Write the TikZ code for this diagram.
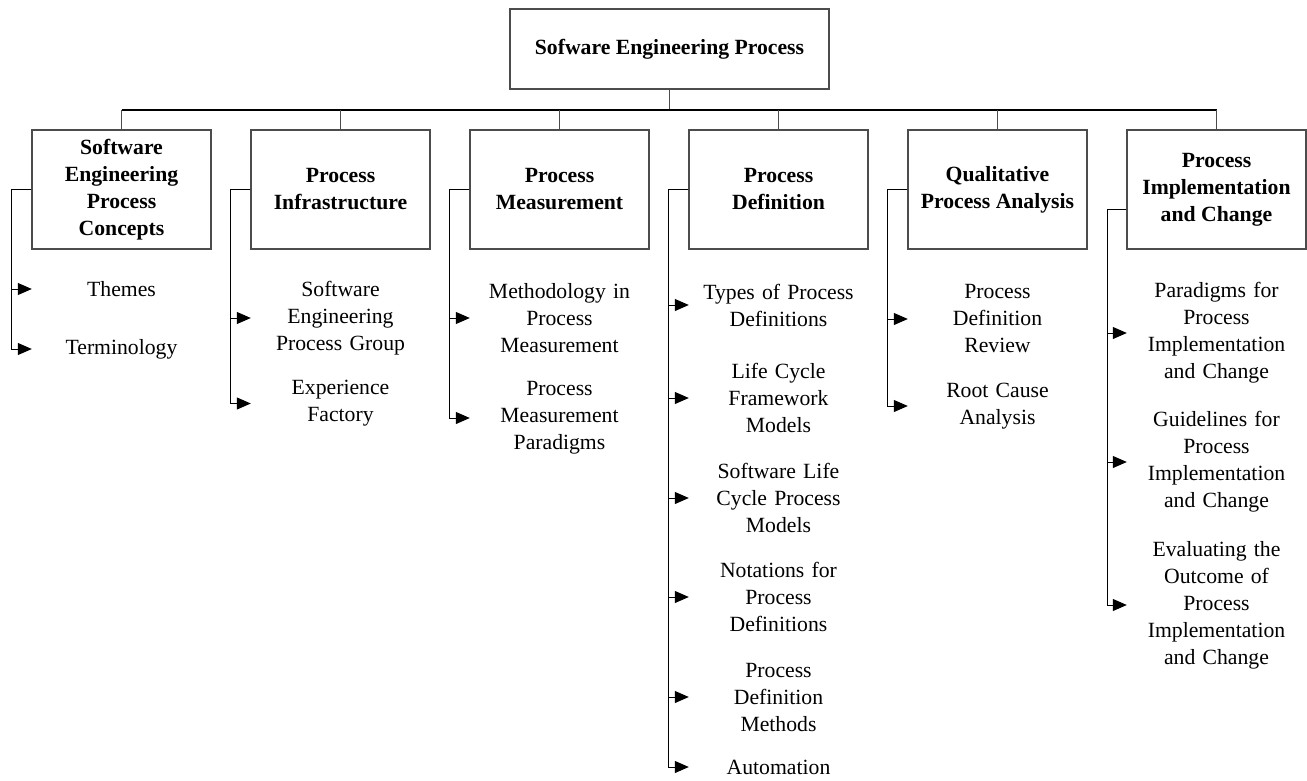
\documentclass[tikz,border=0pt]{standalone}
\usepackage{fontspec}
\setmainfont{Liberation Serif}
\usetikzlibrary{arrows.meta}
\begin{document}
\begin{tikzpicture}[x=1pt,y=-1pt,
		topic/.style={draw=black!70,line width=1.2pt,minimum width=179pt,minimum height=119pt,inner sep=0pt,align=center,font=\fontsize{21.7}{27}\selectfont\bfseries},
		leaf/.style={text width=179pt,inner sep=0pt,align=center,font=\fontsize{21.7}{27}\selectfont},
		stem/.style={draw=black!70,line width=1.2pt},
		link/.style={draw=black,line width=1pt,-{Triangle[length=14pt,width=12pt]}}]
	\useasboundingbox (0,0) rectangle (1307,781);
	
	% root and topics
	\node[topic,minimum width=319pt,minimum height=80pt] (root) at (669.5,49) {Sofware Engineering Process};
	\node[topic] (concepts) at (121.5,189.5) {Software\\Engineering\\Process\\Concepts};
	\node[topic] (infra) at (340.5,189.5) {Process\\Infrastructure};
	\node[topic] (measure) at (559.5,189.5) {Process\\Measurement};
	\node[topic] (define) at (778.5,189.5) {Process\\Definition};
	\node[topic] (analysis) at (997.5,189.5) {Qualitative\\Process Analysis};
	\node[topic] (change) at (1216.5,189.5) {Process\\Implementation\\and Change};
	
	% tree lines
	\coordinate (bus) at (669.5,110);
	\draw[stem] (root) -- (bus);
	\draw[black,line width=1.8pt] (concepts.north |- bus) -- (change.north |- bus);
	\draw[stem] (concepts.north) -- (concepts.north |- bus);
	\draw[stem] (infra.north) -- (infra.north |- bus);
	\draw[stem] (measure.north) -- (measure.north |- bus);
	\draw[stem] (define.north) -- (define.north |- bus);
	\draw[stem] (analysis.north) -- (analysis.north |- bus);
	\draw[stem] (change.north) -- (change.north |- bus);
	
	% subtopics
	\node[leaf] (themes) at (121.5,289) {Themes};
	\node[leaf] (terms) at (121.5,349) {Terminology};
	
	\node[leaf] (sepg) at (340.5,318) {Software\\Engineering\\Process Group};
	\node[leaf] (factory) at (340.5,403.5) {Experience\\Factory};
	
	\node[leaf] (method) at (559.5,318) {Methodology in\\Process\\Measurement};
	\node[leaf] (paradigm) at (559.5,418) {Process\\Measurement\\Paradigms};
	
	\node[leaf] (types) at (778.5,305) {Types of Process\\Definitions};
	\node[leaf] (framework) at (778.5,398) {Life Cycle\\Framework\\Models};
	\node[leaf] (lifecycle) at (778.5,498) {Software Life\\Cycle Process\\Models};
	\node[leaf] (notation) at (778.5,597) {Notations for\\Process\\Definitions};
	\node[leaf] (defmethod) at (778.5,697) {Process\\Definition\\Methods};
	\node[leaf] (auto) at (778.5,767) {Automation};
	
	\node[leaf] (review) at (997.5,319) {Process\\Definition\\Review};
	\node[leaf] (rootcause) at (997.5,406) {Root Cause\\Analysis};
	
	\node[leaf] (implparadigm) at (1216.5,333) {Paradigms for\\Process\\Implementation\\and Change};
	\node[leaf] (guide) at (1216.5,462) {Guidelines for\\Process\\Implementation\\and Change};
	\node[leaf] (outcome) at (1216.5,605) {Evaluating the\\Outcome of\\Process\\Implementation\\and Change};
	
	% brackets
	\draw[link] (concepts.west) -- ++(-20,0) |- (themes.west);
	\draw[link] (concepts.west) -- ++(-20,0) |- (terms.west);
	\draw[link] (infra.west) -- ++(-20,0) |- (sepg.west);
	\draw[link] (infra.west) -- ++(-20,0) |- (factory.west);
	\draw[link] (measure.west) -- ++(-20,0) |- (method.west);
	\draw[link] (measure.west) -- ++(-20,0) |- (paradigm.west);
	\draw[link] (define.west) -- ++(-20,0) |- (types.west);
	\draw[link] (define.west) -- ++(-20,0) |- (framework.west);
	\draw[link] (define.west) -- ++(-20,0) |- (lifecycle.west);
	\draw[link] (define.west) -- ++(-20,0) |- (notation.west);
	\draw[link] (define.west) -- ++(-20,0) |- (defmethod.west);
	\draw[link] (define.west) -- ++(-20,0) |- (auto.west);
	\draw[link] (analysis.west) -- ++(-20,0) |- (review.west);
	\draw[link] (analysis.west) -- ++(-20,0) |- (rootcause.west);
	\draw[link] ([yshift=-20pt]change.west) -- ++(-19,0) |- (implparadigm.west);
	\draw[link] ([yshift=-20pt]change.west) -- ++(-19,0) |- (guide.west);
	\draw[link] ([yshift=-20pt]change.west) -- ++(-19,0) |- (outcome.west);
\end{tikzpicture}
\end{document}
